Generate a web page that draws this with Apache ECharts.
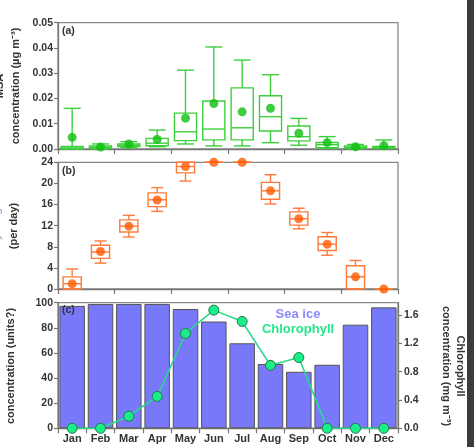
<!DOCTYPE html>
<html><head><meta charset="utf-8">
<script src="https://cdn.jsdelivr.net/npm/echarts@6/dist/echarts.min.js"></script>
<style>html,body{margin:0;padding:0;background:#fff}#c{width:474px;height:447px}</style>
</head><body><div id="c"></div>
<script>
const months = ['Jan','Feb','Mar','Apr','May','Jun','Jul','Aug','Sep','Oct','Nov','Dec'];

// (a) MSA concentration box statistics (µg m-3)
const msaMin    = [0.0000,0.0000,0.0005,0.0009,0.0020,0.0012,0.0012,0.0025,0.0015,0.0002,0.0001,0.0002];
const msaQ1     = [0.0000,0.0003,0.0010,0.0013,0.0033,0.0036,0.0036,0.0071,0.0032,0.0005,0.0003,0.0003];
const msaMedian = [0.0004,0.0007,0.0015,0.0023,0.0068,0.0079,0.0084,0.0128,0.0049,0.0017,0.0006,0.0006];
const msaQ3     = [0.0010,0.0012,0.0020,0.0042,0.0142,0.0190,0.0242,0.0211,0.0091,0.0026,0.0012,0.0010];
const msaMax    = [0.0161,0.0020,0.0029,0.0075,0.0312,0.0404,0.0352,0.0294,0.0121,0.0049,0.0018,0.0036];
const msaMean   = [0.0046,0.0008,0.0020,0.0038,0.0122,0.0180,0.0147,0.0161,0.0062,0.0025,0.0009,0.0013];

// (b) day length (hours per day)
const dayMin    = [0,4.9,9.85,14.7,20.45,24,24,16.1,11.4,6.4,0,0];
const dayQ1     = [0,5.8,10.8,15.6,22.0,24,24,17.0,12.1,7.3,0,0];
const dayMedian = [1.0,7.0,11.9,16.9,23.2,24,24,18.6,13.3,8.5,2.3,0];
const dayQ3     = [2.3,8.3,13.1,18.2,24,24,24,20.2,14.6,9.9,4.4,0];
const dayMax    = [3.8,9.1,13.95,19.2,24,24,24,21.65,15.3,10.7,5.4,0];
const dayMean   = [1.0,7.1,11.9,16.85,23.2,24,24,18.6,13.3,8.5,2.3,0];

// (c) sea ice and chlorophyll
const seaIce = [97.5,99,99,99,95,85,67.7,51.2,45,50.6,82.5,96.3];
const chlorophyll = [0,0,0.17,0.45,1.34,1.67,1.51,0.89,1.0,0,0,0];

const FONT = 'Liberation Sans, Arial, sans-serif';
const lab = {fontFamily: FONT, fontWeight: 'bold', fontSize: 10.5, color: '#333'};
const axisLine = {show: true, lineStyle: {color: '#777', width: 1.3}};
const axisTick = {show: true, length: 4, lineStyle: {color: '#777', width: 1.2}};

function boxRenderer(color, boxFrac, capFrac, lw) {
  return function (params, api) {
    const i = api.value(0);
    const pMin = api.coord([i, api.value(1)]);
    const pQ1 = api.coord([i, api.value(2)]);
    const pMed = api.coord([i, api.value(3)]);
    const pQ3 = api.coord([i, api.value(4)]);
    const pMax = api.coord([i, api.value(5)]);
    const band = api.size([1, 0])[0];
    const x = pMed[0];
    const bw = band * boxFrac, cw = band * capFrac;
    const style = {stroke: color, lineWidth: lw, fill: 'transparent'};
    return {type: 'group', children: [
      {type: 'line', shape: {x1: x, y1: pMax[1], x2: x, y2: pQ3[1]}, style},
      {type: 'line', shape: {x1: x, y1: pQ1[1], x2: x, y2: pMin[1]}, style},
      {type: 'line', shape: {x1: x - cw / 2, y1: pMax[1], x2: x + cw / 2, y2: pMax[1]}, style},
      {type: 'line', shape: {x1: x - cw / 2, y1: pMin[1], x2: x + cw / 2, y2: pMin[1]}, style},
      {type: 'rect', shape: {x: x - bw / 2, y: pQ3[1], width: bw, height: pQ1[1] - pQ3[1]}, style},
      {type: 'line', shape: {x1: x - bw / 2, y1: pMed[1], x2: x + bw / 2, y2: pMed[1]}, style}
    ]};
  };
}
function boxData(mn, q1, md, q3, mx) {
  return months.map((m, i) => [i, mn[i], q1[i], md[i], q3[i], mx[i]]);
}

const gridBase = {left: 58, width: 340, show: true, borderColor: '#888', borderWidth: 1.3, backgroundColor: 'transparent'};

const chart = echarts.init(document.getElementById('c'), null, {renderer: 'canvas'});
chart.setOption({
  animation: false,
  backgroundColor: '#fff',
  grid: [
    Object.assign({top: 22.7, height: 126.3}, gridBase),
    Object.assign({top: 162.3, height: 126.7}, gridBase),
    Object.assign({top: 302.7, height: 125.6}, gridBase)
  ],
  xAxis: [0, 1, 2].map(g => ({
    type: 'category', data: months, gridIndex: g,
    axisLine, axisTick: {show: true, length: 5, lineStyle: {color: '#777', width: 1.2}},
    axisLabel: g === 2 ? Object.assign({margin: 5, interval: 0}, lab, {fontSize: 11}) : {show: false},
    splitLine: {show: false}
  })),
  yAxis: [
    {type: 'value', gridIndex: 0, min: 0, max: 0.05, interval: 0.01, axisLine, axisTick,
     axisLabel: Object.assign({margin: 5, formatter: v => v.toFixed(2)}, lab), splitLine: {show: false}},
    {type: 'value', gridIndex: 1, min: 0, max: 24, interval: 4, axisLine, axisTick,
     axisLabel: Object.assign({margin: 5}, lab), splitLine: {show: false}},
    {type: 'value', gridIndex: 2, min: 0, max: 100, interval: 20, axisLine, axisTick,
     axisLabel: Object.assign({margin: 5}, lab), splitLine: {show: false}},
    {type: 'value', gridIndex: 2, position: 'right', min: 0, max: 1.775, interval: 0.4, axisLine, axisTick,
     axisLabel: Object.assign({margin: 6, showMaxLabel: false, formatter: v => v.toFixed(1)}, lab), splitLine: {show: false}}
  ],
  series: [
    {type: 'custom', xAxisIndex: 0, yAxisIndex: 0, clip: false,
     renderItem: boxRenderer('#3ccf3c', 0.78, 0.6, 1.4),
     encode: {x: 0, y: [1, 2, 3, 4, 5]},
     data: boxData(msaMin, msaQ1, msaMedian, msaQ3, msaMax)},
    {type: 'scatter', xAxisIndex: 0, yAxisIndex: 0, clip: false, symbolSize: 9,
     itemStyle: {color: '#0fbf0f'}, data: msaMean, z: 5},
    {type: 'custom', xAxisIndex: 1, yAxisIndex: 1, clip: false,
     renderItem: boxRenderer('#ff7a3a', 0.64, 0.42, 1.4),
     encode: {x: 0, y: [1, 2, 3, 4, 5]},
     data: boxData(dayMin, dayQ1, dayMedian, dayQ3, dayMax)},
    {type: 'scatter', xAxisIndex: 1, yAxisIndex: 1, clip: false, symbolSize: 9,
     itemStyle: {color: '#ff5a00'}, data: dayMean, z: 5},
    {type: 'bar', name: 'Sea ice', xAxisIndex: 2, yAxisIndex: 2, data: seaIce,
     barCategoryGap: '10%',
     itemStyle: {color: '#7878fb', borderColor: '#555', borderWidth: 1}},
    {type: 'line', name: 'Chlorophyll', xAxisIndex: 2, yAxisIndex: 3, data: chlorophyll,
     symbol: 'circle', symbolSize: 10, z: 5,
     lineStyle: {color: '#2ad98c', width: 1.6},
     itemStyle: {color: '#1aee88', borderColor: '#1f7a4a', borderWidth: 1}}
  ],
  graphic: [
    {type: 'rect', left: 467, top: 0, shape: {width: 7, height: 447}, style: {fill: '#3c3c3c'}, z: 100},
    {type: 'text', x: 62, y: 31, style: {text: '(a)', font: 'bold 10.5px ' + FONT, fill: '#333', verticalAlign: 'middle'}},
    {type: 'text', x: 62, y: 171, style: {text: '(b)', font: 'bold 10.5px ' + FONT, fill: '#333', verticalAlign: 'middle'}},
    {type: 'text', x: 62, y: 310, z: 50, style: {text: '(c)', font: 'bold 10.5px ' + FONT, fill: '#333', verticalAlign: 'middle'}},
    // left titles (first lines partly cut off by the page edge, as in the reference)
    {type: 'text', x: 0, y: 86, rotation: Math.PI / 2, style: {text: 'MSA', font: 'bold 11px ' + FONT, fill: '#333', align: 'center', verticalAlign: 'middle'}},
    {type: 'text', x: 16, y: 86, rotation: Math.PI / 2, style: {text: 'concentration (µg m⁻³)', font: 'bold 11px ' + FONT, fill: '#333', align: 'center', verticalAlign: 'middle'}},
    {type: 'text', x: -3, y: 226, rotation: Math.PI / 2, style: {text: 'Day length', font: 'bold 11px ' + FONT, fill: '#9aa8d8', align: 'center', verticalAlign: 'middle'}},
    {type: 'text', x: 14, y: 226, rotation: Math.PI / 2, style: {text: '(per day)', font: 'bold 11px ' + FONT, fill: '#333', align: 'center', verticalAlign: 'middle'}},
    {type: 'text', x: -4, y: 366, rotation: Math.PI / 2, style: {text: 'Sea ice', font: 'bold 11px ' + FONT, fill: '#9aa8d8', align: 'center', verticalAlign: 'middle'}},
    {type: 'text', x: 11, y: 366, rotation: Math.PI / 2, style: {text: 'concentration (units?)', font: 'bold 11px ' + FONT, fill: '#333', align: 'center', verticalAlign: 'middle'}},
    // right titles
    {type: 'text', x: 460, y: 366, rotation: -Math.PI / 2, style: {text: 'Chlorophyll', font: 'bold 11px ' + FONT, fill: '#333', align: 'center', verticalAlign: 'middle'}},
    {type: 'text', x: 446, y: 366, rotation: -Math.PI / 2, style: {text: 'concentration (mg m⁻³)', font: 'bold 11px ' + FONT, fill: '#333', align: 'center', verticalAlign: 'middle'}},
    // legend
    {type: 'text', x: 298, y: 314, z: 50, style: {text: 'Sea ice', font: 'bold 13px ' + FONT, fill: '#8c8cff', align: 'center', verticalAlign: 'middle'}},
    {type: 'text', x: 298, y: 329, z: 50, style: {text: 'Chlorophyll', font: 'bold 13px ' + FONT, fill: '#22e888', align: 'center', verticalAlign: 'middle'}}
  ]
});
</script></body></html>
